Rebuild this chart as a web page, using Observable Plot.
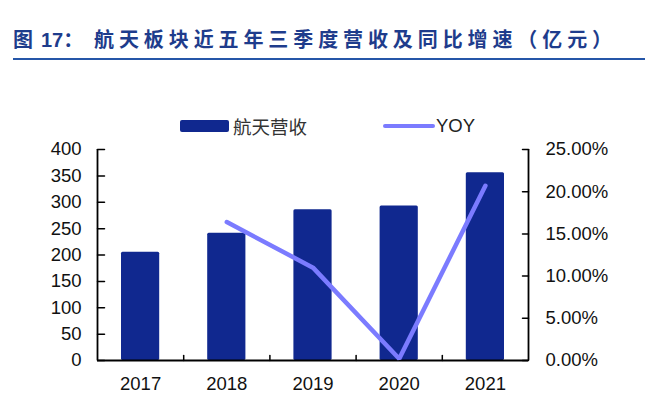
<!DOCTYPE html>
<html>
<head>
<meta charset="utf-8">
<script src="https://cdn.jsdelivr.net/npm/d3@7"></script>
<script src="https://cdn.jsdelivr.net/npm/@observablehq/plot@0.6"></script>
<style>
  body { margin: 0; background: #fff; }
  #wrap { width: 652px; height: 393px; overflow: hidden; position: relative; }
  #title {
    margin-left: 13px; width: 632px; height: 30px; padding-top: 28px;
    border-bottom: 2px solid #2556A8;
    font-family: "Liberation Sans", "Noto Sans CJK SC", sans-serif;
    font-weight: bold; font-size: 20px; line-height: 24px;
    color: #1E3C8C; white-space: nowrap;
  }
  #title .c { letter-spacing: 4.9px; }
  #title .n { letter-spacing: 0; margin-left: 3px; }
  #legend { position: relative; height: 70px;
    font-family: "Liberation Sans", "Noto Sans CJK SC", sans-serif; font-size: 18.5px; color: #222; }
  .item { position: absolute; top: 56px; height: 20px; display: flex; align-items: center; }
  .sw-bar { width: 49px; height: 12px; border-radius: 2px; margin-right: 4px; }
  .sw-line { width: 52px; height: 4px; border-radius: 2px; margin-right: 1px; }
</style>
</head>
<body>
<div id="wrap">
  <div id="title"><span class="c">图</span><span class="n">17</span><span class="c" style="margin-right:6px">：</span><span class="c">航天板块近五年三季度营收及同比增速（亿元）</span></div>
  <div id="legend"></div>
  <div id="chart"></div>
</div>
<script>
const years = ["2017", "2018", "2019", "2020", "2021"];
const revenue = [205, 241, 286, 293, 356];          // 航天营收（亿元）
const yoy = [null, 16.4, 11.0, 0.2, 20.7];           // YOY (%)
const leftTicks = [0, 50, 100, 150, 200, 250, 300, 350, 400];
const rightTicks = [0, 5, 10, 15, 20, 25];           // %
const seriesNames = ["航天营收", "YOY"];
const barColor = "#10288F";
const lineColor = "#7B7BFF";

const ratio = leftTicks[leftTicks.length - 1] / rightTicks[rightTicks.length - 1];
const data = years.map((y, i) => ({i, year: y, rev: revenue[i], yoy: yoy[i]}));
const lineData = data.filter(d => d.yoy != null);
const boundaries = years.slice(1).map((_, i) => i + 0.5);
const xDomain = [-0.5, years.length - 0.5];
const tickShape = {draw(context, l) { context.moveTo(0, 0); context.lineTo(0, -l); }};

// legend
const legend = document.getElementById("legend");
legend.innerHTML =
  `<div class="item" style="left:180px"><div class="sw-bar" style="background:${barColor}"></div><span style="color:#333">${seriesNames[0]}</span></div>` +
  `<div class="item" style="left:383px"><div class="sw-line" style="background:${lineColor}"></div><span>${seriesNames[1]}</span></div>`;

const chart = Plot.plot({
  width: 652,
  height: 263,
  marginTop: 19,
  marginBottom: 33,
  marginLeft: 97,
  marginRight: 124,
  style: {fontFamily: "'Liberation Sans', Arial, sans-serif", fontSize: "18.5px", color: "#111", background: "transparent", overflow: "visible"},
  x: {type: "linear", domain: xDomain, axis: null},
  y: {domain: [0, leftTicks[leftTicks.length - 1]], axis: null},
  marks: [
    Plot.rectY(data, {x1: d => d.i - 0.5, x2: d => d.i + 0.5, y: "rev", insetLeft: 24, insetRight: 24, fill: barColor, rx: 1.5}),
    Plot.ruleX(xDomain, {stroke: "#000", strokeWidth: 1.8}),
    Plot.ruleY([0], {stroke: "#000", strokeWidth: 1.8}),
    Plot.axisY({anchor: "left", ticks: leftTicks, tickFormat: d => String(d), tickSize: 0, tickPadding: 16, label: null}),
    Plot.axisY({anchor: "right", ticks: rightTicks.map(d => d * ratio), tickFormat: d => (d / ratio).toFixed(2) + "%", tickSize: 0, tickPadding: 17, label: null}),
    Plot.axisX({anchor: "bottom", ticks: years.map((_, i) => i), tickFormat: i => years[i], tickSize: 0, tickPadding: 16, label: null}),
    Plot.vector(leftTicks, {y: d => d, frameAnchor: "left", length: 7, rotate: 90, anchor: "start", stroke: "#000", strokeWidth: 1.5, shape: tickShape}),
    Plot.vector(rightTicks.map(d => d * ratio), {y: d => d, frameAnchor: "right", length: 6, rotate: -90, anchor: "start", stroke: "#000", strokeWidth: 1.5, shape: tickShape}),
    Plot.vector(boundaries, {x: d => d, frameAnchor: "bottom", length: 5, rotate: 0, anchor: "start", stroke: "#000", strokeWidth: 1.5, shape: tickShape}),
    Plot.line(lineData, {x: "i", y: d => d.yoy * ratio, stroke: lineColor, strokeWidth: 4.5, strokeLinecap: "round", strokeLinejoin: "miter"})
  ]
});
document.getElementById("chart").appendChild(chart);
</script>
</body>
</html>
